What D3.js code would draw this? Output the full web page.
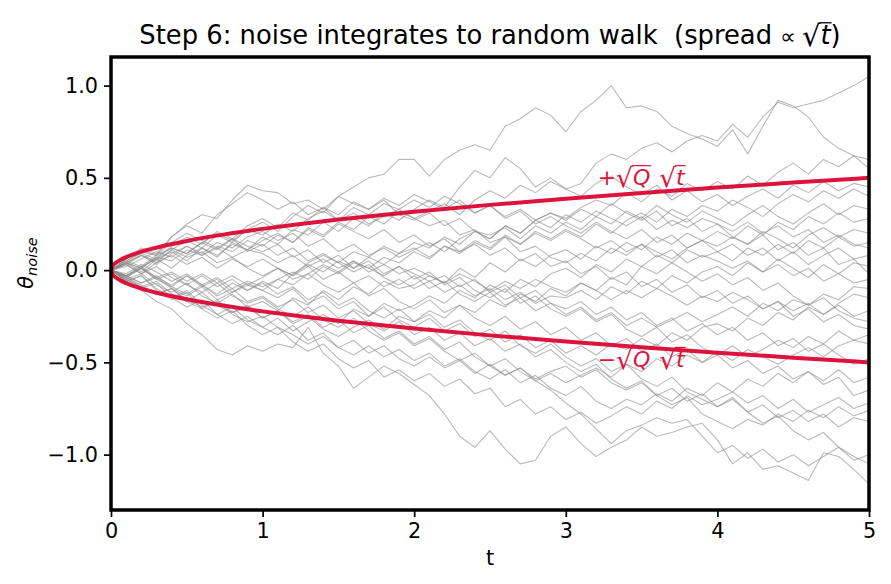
<!DOCTYPE html>
<html>
<head>
<meta charset="utf-8">
<script src="https://cdn.jsdelivr.net/npm/d3@7"></script>
<style>
body { margin: 0; background: #fff; }
text { font-family: "DejaVu Sans", sans-serif; white-space: pre; }
</style>
</head>
<body>
<div id="chart-area"></div>
<script>
// sample times of every path (step 0.1)
const times = d3.range(51).map(i => i / 10)

// 30 noise paths
const walks = [
	[0,.05,.10,.08,.18,.25,.30,.28,.38,.46, .43,.42,.36,.38,.33,.40,.45,.50,.52,.60, .60,.51,.60,.65,.68,.65,.78,.82,.88,.84, .75,.86,.92,1.0,.88,.89,.86,.78,.74,.71, .67,.76,.63,.78,.92,.89,.83,.72,.66,.62, .60],
	[0,-.03,.02,.06,.01,.08,.12,.07,.15,.11, .18,.14,.22,.19,.26,.21,.28,.24,.31,.27, .33,.38,.34,.45,.54,.50,.61,.55,.45,.50, .44,.47,.58,.63,.60,.66,.69,.64,.70,.73, .70,.79,.72,.83,.91,.88,.90,.92,.96,1.0, 1.05],
	[0,.04,.01,.07,.12,.09,.15,.20,.16,.22, .19,.25,.21,.28,.32,.27,.34,.30,.36,.33, .38,.34,.40,.36,.31,.35,.29,.33,.27,.31, .28,.34,.38,.35,.42,.37,.44,.40,.47,.43, .48,.44,.51,.46,.53,.58,.52,.60,.56,.62, .55],
	[0,.06,.12,.09,.18,.24,.20,.30,.36,.42, .38,.33,.37,.30,.34,.27,.31,.25,.29,.33, .28,.32,.36,.30,.38,.43,.39,.46,.42,.48, .44,.40,.47,.51,.45,.41,.46,.38,.43,.37, .41,.35,.40,.44,.39,.46,.42,.48,.43,.47, .45],
	[0,-.04,.01,-.05,-.09,-.03,-.08,-.13,-.07,-.11, -.06,-.10,-.02,.03,-.01,.05,.01,.07,.03,.09, .12,.07,.13,.10,.16,.12,.19,.14,.21,.17, .22,.18,.25,.20,.27,.31,.26,.33,.29,.35, .32,.38,.34,.29,.36,.41,.37,.43,.39,.44, .40],
	[0,.03,.08,.04,.11,.16,.12,.19,.15,.22, .26,.21,.29,.35,.31,.40,.36,.33,.38,.30, .27,.31,.24,.28,.21,.19,.23,.17,.24,.20, .26,.22,.29,.25,.32,.28,.35,.30,.26,.32, .28,.24,.30,.35,.29,.25,.31,.36,.30,.35, .33],
	[0,-.05,-.02,-.08,-.12,-.07,-.14,-.18,-.13,-.20, -.17,-.22,-.15,-.19,-.11,-.16,-.09,-.13,-.06,-.10, -.08,-.03,-.07,.01,-.04,.04,-.01,.06,.02,.08, .11,.06,.13,.09,.15,.11,.18,.14,.20,.16, .21,.17,.24,.19,.26,.22,.29,.25,.31,.26, .28],
	[0,.04,-.01,.06,.10,.05,.12,.08,.14,.11, .16,.20,.15,.23,.19,.26,.22,.29,.25,.32, .28,.24,.27,.19,.22,.15,.18,.10,.13,.07, .04,.09,.05,.12,.08,.14,.10,.06,.12,.16, .13,.18,.14,.21,.17,.12,.19,.23,.18,.22, .20],
	[0,-.06,-.03,-.10,-.15,-.11,-.19,-.24,-.20,-.27, -.31,-.26,-.33,-.28,-.24,-.29,-.21,-.25,-.18,-.22, -.19,-.14,-.18,-.11,-.15,-.08,-.12,-.05,-.09,-.02, .01,-.04,.03,-.01,.06,.02,.08,.04,.11,.07, .10,.05,.12,.08,.14,.09,.16,.12,.18,.13, .15],
	[0,.05,.09,.06,.13,.18,.14,.21,.17,.24, .28,.23,.31,.27,.34,.30,.37,.33,.39,.35, .41,.37,.33,.38,.31,.35,.28,.32,.25,.29, .24,.20,.26,.21,.17,.22,.15,.19,.12,.16, .10,.14,.08,.12,.05,.10,.03,.08,.12,.06, .08],
	[0,.03,-.02,.04,.08,.03,.07,.01,.06,.02, .06,.01,-.03,.02,-.05,-.01,-.07,-.03,-.09,-.05, -.10,-.06,-.12,-.08,-.14,-.10,-.16,-.12,-.18,-.14, -.15,-.11,-.16,-.09,-.13,-.06,-.10,-.03,-.07,-.01, .02,-.03,.04,-.01,.06,.01,-.04,.03,-.02,.04, .02],
	[0,-.03,-.07,-.04,-.10,-.14,-.09,-.16,-.12,-.08, -.11,-.05,-.08,-.02,.03,-.01,.05,.01,.07,.04, .10,.06,.13,.09,.15,.11,.18,.14,.20,.16, .21,.17,.12,.16,.10,.14,.07,.11,.04,.08, .05,.01,.05,-.01,.03,-.03,.01,-.06,-.02,-.07, -.05],
	[0,.06,.11,.08,.15,.20,.16,.12,.17,.10, .14,.08,.12,.05,.09,.04,-.01,.03,-.04,-.08, -.03,-.10,-.06,-.13,-.17,-.12,-.19,-.15,-.22,-.18, -.24,-.20,-.27,-.23,-.30,-.26,-.31,-.27,-.23,-.28, -.24,-.20,-.25,-.18,-.22,-.16,-.19,-.13,-.16,-.09, -.10],
	[0,-.03,.02,-.04,-.08,-.03,-.09,-.05,-.12,-.07, -.11,-.15,-.10,-.18,-.14,-.21,-.17,-.25,-.20,-.27, -.31,-.26,-.33,-.29,-.36,-.32,-.39,-.35,-.42,-.38, -.45,-.41,-.46,-.40,-.43,-.37,-.41,-.34,-.38,-.31, -.29,-.33,-.26,-.30,-.23,-.27,-.20,-.24,-.18,-.13, -.15],
	[0,.04,.08,.03,.09,.13,.08,.12,.07,.11, .09,.04,.08,.02,.06,.01,.05,-.01,.03,-.02, .01,-.03,-.07,-.02,-.06,-.11,-.06,-.10,-.05,-.09, -.12,-.07,-.11,-.16,-.11,-.15,-.10,-.14,-.19,-.14, -.17,-.12,-.16,-.21,-.17,-.22,-.18,-.24,-.19,-.25, -.22],
	[0,-.05,-.09,-.13,-.10,-.17,-.21,-.16,-.23,-.19, -.26,-.22,-.29,-.25,-.32,-.36,-.31,-.27,-.32,-.25, -.28,-.22,-.26,-.19,-.23,-.16,-.20,-.13,-.17,-.10, -.14,-.07,-.11,-.04,-.08,.02,-.02,.04,-.01,-.06, -.02,-.08,-.04,-.11,-.07,-.14,-.19,-.15,-.22,-.26, -.28],
	[0,.04,.01,.07,.05,.11,.08,.13,.10,.16, .13,.19,.15,.22,.18,.25,.21,.17,.22,.15, .19,.13,.17,.10,.14,.08,.12,.05,.09,.02, .05,-.02,.02,-.05,-.01,-.09,-.05,-.12,-.08,-.15, -.11,-.18,-.14,-.21,-.17,-.25,-.21,-.28,-.24,-.30, -.32],
	[0,-.04,-.09,-.06,-.13,-.17,-.12,-.19,-.23,-.20, -.26,-.22,-.28,-.24,-.31,-.27,-.34,-.30,-.37,-.33, -.40,-.36,-.43,-.39,-.47,-.52,-.48,-.55,-.60,-.56, -.61,-.57,-.53,-.58,-.51,-.55,-.48,-.52,-.46,-.50, -.44,-.49,-.43,-.47,-.51,-.46,-.42,-.47,-.41,-.38, -.40],
	[0,-.02,.03,-.01,-.06,-.02,-.08,-.04,-.10,-.06, -.09,-.05,-.01,-.05,.02,-.02,.04,.01,-.03,.02, -.02,-.06,-.03,-.09,-.05,-.12,-.08,-.15,-.11,-.18, -.21,-.17,-.24,-.20,-.27,-.23,-.30,-.26,-.33,-.29, -.35,-.31,-.38,-.34,-.41,-.37,-.44,-.40,-.46,-.51, -.48],
	[0,-.05,-.10,-.07,-.15,-.20,-.16,-.24,-.29,-.25, -.31,-.35,-.30,-.38,-.34,-.42,-.46,-.41,-.47,-.43, -.49,-.45,-.52,-.48,-.55,-.59,-.54,-.61,-.57,-.64, -.68,-.63,-.71,-.75,-.70,-.73,-.67,-.71,-.64,-.68, -.61,-.66,-.59,-.63,-.56,-.61,-.55,-.60,-.54,-.61, -.58],
	[0,.04,.08,.05,.11,.07,.10,.04,.07,.01, -.03,.01,-.05,-.02,-.08,-.12,-.07,-.14,-.10,-.17, -.21,-.16,-.23,-.19,-.26,-.30,-.25,-.32,-.28,-.35, -.31,-.38,-.34,-.41,-.37,-.44,-.40,-.47,-.43,-.50, -.46,-.53,-.49,-.56,-.52,-.59,-.55,-.62,-.58,-.68, -.65],
	[0,-.06,-.03,-.11,-.16,-.12,-.21,-.26,-.22,-.30, -.35,-.31,-.39,-.44,-.40,-.48,-.53,-.49,-.58,-.54, -.60,-.56,-.63,-.59,-.67,-.64,-.74,-.70,-.78,-.74, -.81,-.77,-.83,-.79,-.74,-.78,-.71,-.75,-.68,-.73, -.70,-.66,-.72,-.68,-.75,-.70,-.77,-.73,-.69,-.75, -.72],
	[0,-.03,-.07,-.03,-.09,-.13,-.08,-.14,-.10,-.17, -.14,-.20,-.16,-.23,-.19,-.26,-.22,-.29,-.33,-.28, -.35,-.31,-.38,-.34,-.41,-.37,-.44,-.40,-.47,-.43, -.50,-.55,-.51,-.59,-.64,-.60,-.68,-.73,-.69,-.78, -.82,-.86,-.81,-.84,-.78,-.82,-.76,-.80,-.74,-.79, -.76],
	[0,-.04,-.08,-.13,-.10,-.16,-.20,-.17,-.24,-.28, -.25,-.31,-.35,-.40,-.36,-.42,-.38,-.45,-.41,-.48, -.52,-.47,-.53,-.49,-.56,-.51,-.57,-.53,-.59,-.55, -.52,-.58,-.54,-.61,-.65,-.61,-.68,-.64,-.71,-.67, -.74,-.70,-.77,-.73,-.80,-.76,-.82,-.78,-.85,-.80, -.82],
	[0,-.06,-.11,-.17,-.21,-.29,-.35,-.43,-.46,-.41, -.44,-.40,-.42,-.31,-.45,-.52,-.64,-.58,-.52,-.56, -.62,-.68,-.78,-.90,-.96,-.87,-.97,-1.05,-1.03,-.90, -.85,-.94,-1.01,-.96,-.92,-.85,-.90,-.88,-.85,-.83, -.92,-1.05,-.99,-1.08,-1.06,-1.10,-1.14,-.99,-1.01,-1.08, -1.16],
	[0,-.04,.01,-.05,-.02,-.08,-.12,-.07,-.14,-.18, -.15,-.21,-.25,-.20,-.27,-.31,-.26,-.33,-.38,-.34, -.41,-.37,-.44,-.49,-.45,-.52,-.57,-.53,-.60,-.65, -.72,-.78,-.86,-.94,-.87,-.84,-.80,-.83,-.81,-.90, -.99,-.95,-1.02,-.97,-1.04,-1.00,-1.06,-1.01,-.96,-1.03, -1.00],
	[0,.03,-.02,.02,-.04,-.08,-.03,-.09,-.05,-.11, -.07,-.13,-.09,-.16,-.12,-.19,-.15,-.22,-.26,-.21, -.28,-.24,-.31,-.27,-.34,-.38,-.33,-.41,-.45,-.40, -.47,-.52,-.48,-.55,-.51,-.59,-.63,-.58,-.66,-.70, -.74,-.69,-.77,-.83,-.79,-.87,-.92,-.88,-.96,-1.01, -1.05],
	[0,.05,.02,.08,.12,.09,.15,.11,.17,.13, .10,.14,.07,.11,.04,.08,.01,.05,-.02,.02, -.05,-.01,-.08,-.04,-.11,-.15,-.10,-.18,-.14,-.21, -.25,-.21,-.28,-.24,-.32,-.36,-.31,-.39,-.35,-.42, -.46,-.41,-.47,-.43,-.38,-.42,-.36,-.40,-.33,-.38, -.35],
	[0,-.03,.01,-.04,-.01,-.06,-.02,-.07,-.03,-.08, -.04,.01,-.03,.04,.08,.04,.10,.07,.13,.09, .15,.12,.18,.14,.21,.17,.24,.20,.27,.23, .30,.26,.32,.28,.24,.29,.22,.27,.23,.28, .25,.21,.26,.20,.24,.18,.22,.15,.19,.14, .12],
	[0,.02,.06,.10,.07,.13,.09,.15,.12,.18, .21,.16,.20,.13,.17,.10,.14,.08,.12,.07, .11,.15,.10,.17,.21,.17,.24,.20,.27,.31, .27,.33,.29,.36,.31,.27,.32,.24,.28,.21, .25,.18,.14,.19,.11,.15,.08,.12,.03,.06, -.02]
]

// sqrt(Q) sqrt(t) envelope, Q = 0.05
const envTimes = [0, 0.01, 0.03, 0.06, 0.1, 0.2, 0.35, 0.5, 0.75, 1, 1.25, 1.5, 2, 2.5, 3, 3.5, 4, 4.5, 5]
const envUpper = [0, 0.0224, 0.0387, 0.0548, 0.0707, 0.1, 0.1323, 0.1581, 0.1936, 0.2236, 0.25, 0.2739, 0.3162, 0.3536, 0.3873, 0.4183, 0.4472, 0.4743, 0.5]
const envLower = envUpper.map(v => -v)

const xTicks = [0, 1, 2, 3, 4, 5]
const yTicks = [-1.0, -0.5, 0.0, 0.5, 1.0]

const W = 891, H = 584
const box = { left: 111, top: 57, right: 869, bottom: 510 }
const red = "#dc143c"
const fs = 20.8

const svg = d3.select("#chart-area").append("svg")
	.attr("width", W)
	.attr("height", H)

svg.append("defs").append("clipPath")
	.attr("id", "plot-clip")
	.append("rect")
	.attr("x", box.left).attr("y", box.top)
	.attr("width", box.right - box.left).attr("height", box.bottom - box.top)

const x = d3.scaleLinear()
	.domain([0, 5])
	.range([box.left, box.right])

const y = d3.scaleLinear()
	.domain([-1.30, 1.155])
	.range([box.bottom, box.top])

const plot = svg.append("g").attr("clip-path", "url(#plot-clip)")

const walkLine = d3.line()
	.x((d, i) => x(times[i]))
	.y(d => y(d))

plot.selectAll(".walk")
	.data(walks)
	.enter().append("path")
	.attr("class", "walk")
	.attr("d", walkLine)
	.attr("fill", "none")
	.attr("stroke", "#8c8c8c")
	.attr("stroke-opacity", 0.6)
	.attr("stroke-width", 1.1)
	.attr("stroke-linejoin", "round")

const envLine = d3.line()
	.x((d, i) => x(envTimes[i]))
	.y(d => y(d))
	.curve(d3.curveMonotoneX)

plot.selectAll(".env")
	.data([envUpper, envLower])
	.enter().append("path")
	.attr("class", "env")
	.attr("d", envLine)
	.attr("fill", "none")
	.attr("stroke", red)
	.attr("stroke-width", 4)

// axes
const xAxis = d3.axisBottom(x).tickValues(xTicks).tickFormat(d3.format("d")).tickSize(7).tickPadding(6)
const gx = svg.append("g")
	.attr("transform", `translate(0,${box.bottom})`)
	.call(xAxis)

const yAxis = d3.axisLeft(y).tickValues(yTicks)
	.tickFormat(d => d3.format(".1f")(d).replace("-", "\u2212"))
	.tickSize(7).tickPadding(6)
const gy = svg.append("g")
	.attr("transform", `translate(${box.left},0)`)
	.call(yAxis)

;[gx, gy].forEach(g => {
	g.select(".domain").remove()
	g.selectAll(".tick line").attr("stroke", "#000").attr("stroke-width", 1.7)
	g.selectAll(".tick text")
		.attr("font-size", fs)
		.attr("font-family", "DejaVu Sans")
		.attr("fill", "#000")
})

// frame
svg.append("rect")
	.attr("x", box.left).attr("y", box.top)
	.attr("width", box.right - box.left).attr("height", box.bottom - box.top)
	.attr("fill", "none")
	.attr("stroke", "#000")
	.attr("stroke-width", 3.5)

// pieces of text placed one after another, returns end x
// a piece with root: true gets a radical bar over the piece after it
function pieces(g, x0, yb, parts) {
	let cx = x0
	let bar = null
	parts.forEach(p => {
		if (p.gap) { cx += p.gap; return }
		const t = g.append("text")
			.attr("x", cx)
			.attr("y", yb + (p.dy || 0))
			.attr("font-size", p.size)
			.attr("fill", p.color || "#000")
			.attr("font-style", p.italic ? "italic" : null)
			.text(p.text)
		cx += t.node().getComputedTextLength()
		if (bar) {
			g.append("line")
				.attr("x1", bar.x - 1).attr("x2", cx + 1)
				.attr("y1", bar.y).attr("y2", bar.y)
				.attr("stroke", p.color || "#000")
				.attr("stroke-width", bar.w)
			bar = null
		}
		if (p.root) {
			const bb = t.node().getBBox()
			bar = { x: cx, y: bb.y + p.size * 0.13, w: Math.max(1, p.size * 0.045) }
		}
	})
	return cx
}

function rootLabel(sign, tx, ty) {
	const g = svg.append("g")
	const s = 22
	pieces(g, x(tx), y(ty), [
		{ text: sign, size: s, color: red },
		{ text: "\u221a", size: s * 1.2, color: red, root: true, dy: 2 },
		{ text: "Q", size: s, color: red, italic: true },
		{ gap: 9 },
		{ text: "\u221a", size: s * 1.2, color: red, root: true, dy: 2 },
		{ text: "t", size: s, color: red, italic: true }
	])
}
rootLabel("+", 3.21, 0.46)
rootLabel("\u2212", 3.21, -0.525)

// title
const titleG = svg.append("g")
const tEnd = pieces(titleG, 0, 0, [
	{ text: "Step 6: noise integrates to random walk  (spread ", size: 25.8 },
	{ text: "\u221d", size: 22 },
	{ gap: 6 },
	{ text: "\u221a", size: 29, root: true, dy: 2 },
	{ text: "t", size: 25.8, italic: true },
	{ text: ")", size: 25.8 }
])
titleG.attr("transform", `translate(${(box.left + box.right) / 2 - tEnd / 2},44)`)

// axis labels
svg.append("text")
	.attr("x", (box.left + box.right) / 2)
	.attr("y", 565)
	.attr("text-anchor", "middle")
	.attr("font-size", fs)
	.text("t")

const ylab = svg.append("g")
const yEnd = pieces(ylab, 0, 0, [
	{ text: "\u03b8", size: fs, italic: true },
	{ text: "noise", size: 14.5, italic: true, dy: 4 }
])
ylab.attr("transform", `translate(33,${263 + yEnd / 2}) rotate(-90)`)
</script>
</body>
</html>
